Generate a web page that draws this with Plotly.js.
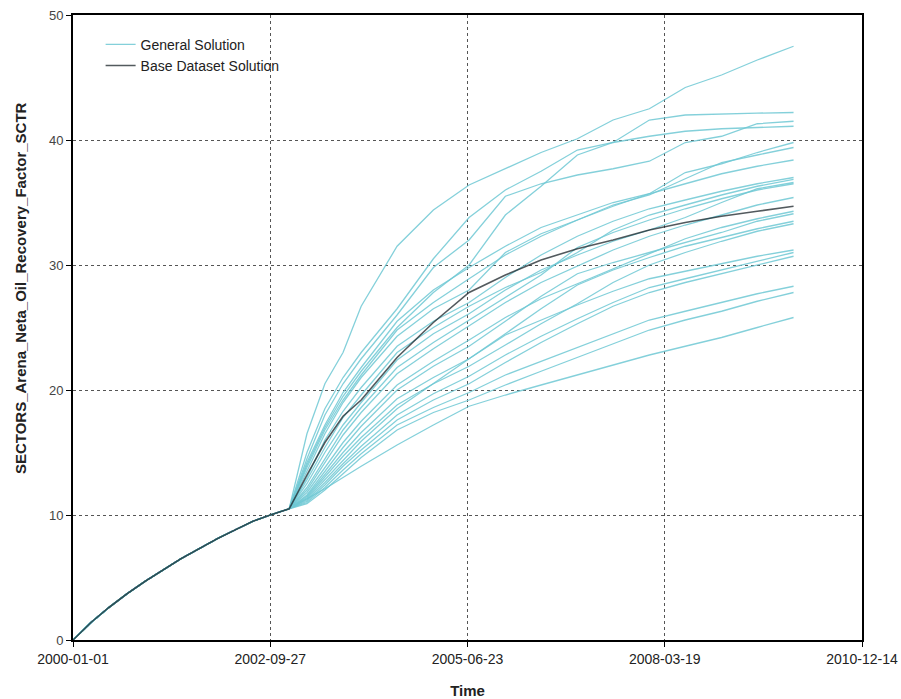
<!DOCTYPE html>
<html>
<head>
<meta charset="utf-8">
<script src="https://cdn.plot.ly/plotly-3.0.1.min.js"></script>
<style>html,body{margin:0;padding:0;background:#fff;}#chart{width:901px;height:699px;}</style>
</head>
<body>
<div id="chart"></div>
<script>
// History (shared by all solutions)
const historyTimes = ['2000-01-01','2000-04-01','2000-07-01','2000-10-01','2001-01-01','2001-04-01','2001-07-01','2001-10-01','2002-01-01','2002-04-01','2002-07-01','2002-09-27'];
const historyValues = [0, 1.4, 2.6, 3.7, 4.7, 5.6, 6.5, 7.3, 8.1, 8.8, 9.5, 10.0];

// Forecast times
const forecastTimes = ['2003-01-01','2003-04-01','2003-07-01','2003-10-01','2004-01-01','2004-07-01','2005-01-01','2005-07-01','2006-01-01','2006-07-01','2007-01-01','2007-07-01','2008-01-01','2008-07-01','2009-01-01','2009-07-01','2010-01-01'];

// Base dataset solution
const baseValues = [10.5, 13.2, 15.8, 17.9, 19.2, 22.6, 25.4, 27.8, 29.2, 30.4, 31.3, 32.0, 32.8, 33.4, 33.9, 34.3, 34.7];

// General solutions
const gen01 = [10.5, 16.5, 20.5, 23.0, 26.7, 31.5, 34.4, 36.4, 37.7, 39.0, 40.1, 41.6, 42.5, 44.2, 45.2, 46.4, 47.5];
const gen02 = [10.5, 15.0, 18.5, 21.0, 23.0, 26.5, 30.5, 33.8, 36.0, 37.5, 39.2, 39.8, 41.6, 42.0, 42.1, 42.15, 42.2];
const gen03 = [10.5, 14.5, 18.0, 20.5, 22.5, 26.0, 29.8, 32.0, 35.5, 36.5, 37.2, 37.7, 38.3, 39.8, 40.3, 41.3, 41.5];
const gen04 = [10.5, 14.0, 17.0, 19.5, 21.5, 25.0, 27.8, 30.0, 34.0, 36.3, 38.8, 39.8, 40.3, 40.7, 40.9, 41.0, 41.1];
const gen05 = [10.5, 14.2, 17.2, 19.8, 21.8, 25.5, 28.0, 29.8, 31.5, 33.0, 34.0, 35.0, 35.7, 37.4, 38.1, 39.0, 39.8];
const gen06 = [10.5, 13.5, 16.5, 19.0, 21.0, 24.3, 26.5, 28.0, 31.0, 32.5, 33.6, 34.8, 35.6, 36.9, 38.2, 38.8, 39.4];
const gen07 = [10.5, 13.8, 16.8, 19.2, 21.2, 24.8, 27.0, 28.9, 30.8, 32.3, 33.6, 34.7, 35.7, 36.5, 37.3, 37.9, 38.4];
const gen08 = [10.5, 13.0, 16.0, 18.3, 20.2, 23.5, 25.5, 27.0, 29.0, 30.8, 32.3, 33.5, 34.5, 35.2, 35.9, 36.5, 37.0];
const gen09 = [10.5, 12.8, 15.4, 17.8, 19.6, 23.0, 25.0, 26.7, 28.2, 29.4, 31.0, 32.8, 34.0, 34.8, 35.6, 36.3, 36.85];
const gen10 = [10.5, 12.5, 15.0, 17.2, 19.0, 22.4, 24.5, 26.1, 28.0, 29.6, 30.8, 31.9, 32.8, 33.8, 35.0, 36.1, 36.6];
const gen11 = [10.5, 12.2, 14.5, 16.8, 18.6, 21.8, 23.8, 25.6, 27.4, 29.2, 31.4, 32.6, 33.6, 34.5, 35.3, 36.0, 36.5];
const gen12 = [10.5, 12.0, 14.2, 16.4, 18.2, 21.3, 23.3, 25.1, 27.0, 28.6, 29.9, 31.2, 32.3, 33.2, 34.0, 34.8, 35.4];
const gen13 = [10.5, 11.8, 13.8, 15.8, 17.5, 20.4, 22.3, 24.0, 25.8, 27.3, 28.5, 29.7, 30.9, 32.1, 33.0, 33.7, 34.3];
const gen14 = [10.5, 11.6, 13.5, 15.4, 17.1, 20.0, 21.9, 23.5, 25.5, 27.5, 29.3, 30.2, 31.0, 31.8, 32.6, 33.5, 34.1];
const gen15 = [10.5, 11.5, 13.2, 15.0, 16.6, 19.3, 21.0, 22.5, 24.5, 26.5, 28.4, 29.6, 30.6, 31.5, 32.2, 32.9, 33.5];
const gen16 = [10.5, 11.4, 13.0, 14.7, 16.2, 18.8, 20.5, 21.9, 23.6, 25.3, 26.9, 28.6, 30.0, 31.0, 31.9, 32.7, 33.3];
const gen17 = [10.5, 11.3, 12.8, 14.4, 15.9, 18.5, 20.5, 22.5, 24.4, 25.6, 26.8, 27.9, 28.9, 29.5, 30.1, 30.7, 31.2];
const gen18 = [10.5, 11.2, 12.6, 14.1, 15.5, 18.0, 19.7, 21.1, 22.8, 24.3, 25.7, 27.0, 28.2, 28.9, 29.6, 30.3, 31.0];
const gen19 = [10.5, 11.1, 12.4, 13.9, 15.2, 17.6, 19.2, 20.5, 22.2, 23.8, 25.3, 26.7, 27.8, 28.6, 29.3, 30.0, 30.7];
const gen20 = [10.5, 11.0, 12.2, 13.6, 14.9, 17.2, 18.6, 19.8, 21.2, 22.3, 23.4, 24.5, 25.6, 26.3, 27.0, 27.7, 28.3];
const gen21 = [10.5, 10.9, 12.0, 13.3, 14.6, 16.8, 18.2, 19.2, 20.4, 21.5, 22.6, 23.7, 24.8, 25.6, 26.3, 27.1, 27.8];
const gen22 = [10.5, 11.3, 12.1, 13.0, 13.9, 15.6, 17.2, 18.7, 19.6, 20.4, 21.2, 22.0, 22.8, 23.5, 24.2, 25.0, 25.8];
const generalSeries = [gen01,gen02,gen03,gen04,gen05,gen06,gen07,gen08,gen09,gen10,gen11,gen12,gen13,gen14,gen15,gen16,gen17,gen18,gen19,gen20,gen21,gen22];

// Axis ticks and titles
const xTickVals = ['2000-01-01','2002-09-27','2005-06-23','2008-03-19','2010-12-14'];
const xTickText = ['2000-01-01','2002-09-27','2005-06-23','2008-03-19','2010-12-14'];
const yTickVals = [0,10,20,30,40,50];
const yTickText = ['0','10','20','30','40','50'];
const xTitle = 'Time';
const yTitle = 'SECTORS_Arena_Neta_Oil_Recovery_Factor_SCTR';

const allTimes = historyTimes.concat(forecastTimes);
const traces = [];
generalSeries.forEach((vals, i) => {
  traces.push({
    x: allTimes, y: historyValues.concat(vals), type: 'scatter', mode: 'lines',
    name: 'General Solution', legendgroup: 'gen', showlegend: i === 0,
    line: {color: 'rgba(110,200,212,0.85)', width: 1.3},
    hoverinfo: 'skip'
  });
});
traces.push({
  x: allTimes, y: historyValues.concat(baseValues), type: 'scatter', mode: 'lines',
  name: 'Base Dataset Solution', line: {color: 'rgba(25,35,40,0.75)', width: 1.6},
  hoverinfo: 'skip'
});

const layout = {
  width: 901, height: 699,
  margin: {l: 73, r: 39, t: 15, b: 59},
  paper_bgcolor: '#fff', plot_bgcolor: '#fff',
  showlegend: true,
  legend: {x: 0.035, y: 0.978, xanchor: 'left', yanchor: 'top', bgcolor: 'rgba(0,0,0,0)',
    font: {family: 'Liberation Sans, Arial, sans-serif', size: 14, color: '#222'},
    tracegroupgap: 0, itemwidth: 30},
  xaxis: {
    type: 'date', range: ['2000-01-01','2010-12-14'],
    tickmode: 'array', tickvals: xTickVals, ticktext: xTickText,
    showgrid: true, gridcolor: '#555', griddash: 'dot', gridwidth: 1,
    showline: true, linecolor: '#000', linewidth: 2, mirror: true,
    ticks: 'outside', ticklen: 5, tickcolor: '#000', zeroline: false,
    tickfont: {family: 'Liberation Sans Narrow, Arial Narrow, sans-serif', size: 14, color: '#222'},
    title: {text: '<b>' + xTitle + '</b>', standoff: 20, font: {family: 'Liberation Sans Narrow, Arial Narrow, sans-serif', size: 15, color: '#222'}},
    automargin: false
  },
  yaxis: {
    range: [0, 50], tickmode: 'array', tickvals: yTickVals, ticktext: yTickText,
    showgrid: true, gridcolor: '#555', griddash: 'dot', gridwidth: 1,
    showline: true, linecolor: '#000', linewidth: 2, mirror: true,
    ticks: 'outside', ticklen: 5, tickcolor: '#000', zeroline: false,
    tickfont: {family: 'Liberation Sans, Arial, sans-serif', size: 13, color: '#444'},
    automargin: false
  },
  annotations: [{
    text: '<b>' + yTitle + '</b>', textangle: -90, showarrow: false,
    xref: 'paper', yref: 'paper', x: -0.0672, y: 0.563, xanchor: 'center', yanchor: 'middle',
    font: {family: 'Liberation Sans, Arial, sans-serif', size: 15, color: '#222'}
  }],
  hovermode: false
};

Plotly.newPlot('chart', traces, layout, {displayModeBar: false, staticPlot: true});
</script>
</body>
</html>
